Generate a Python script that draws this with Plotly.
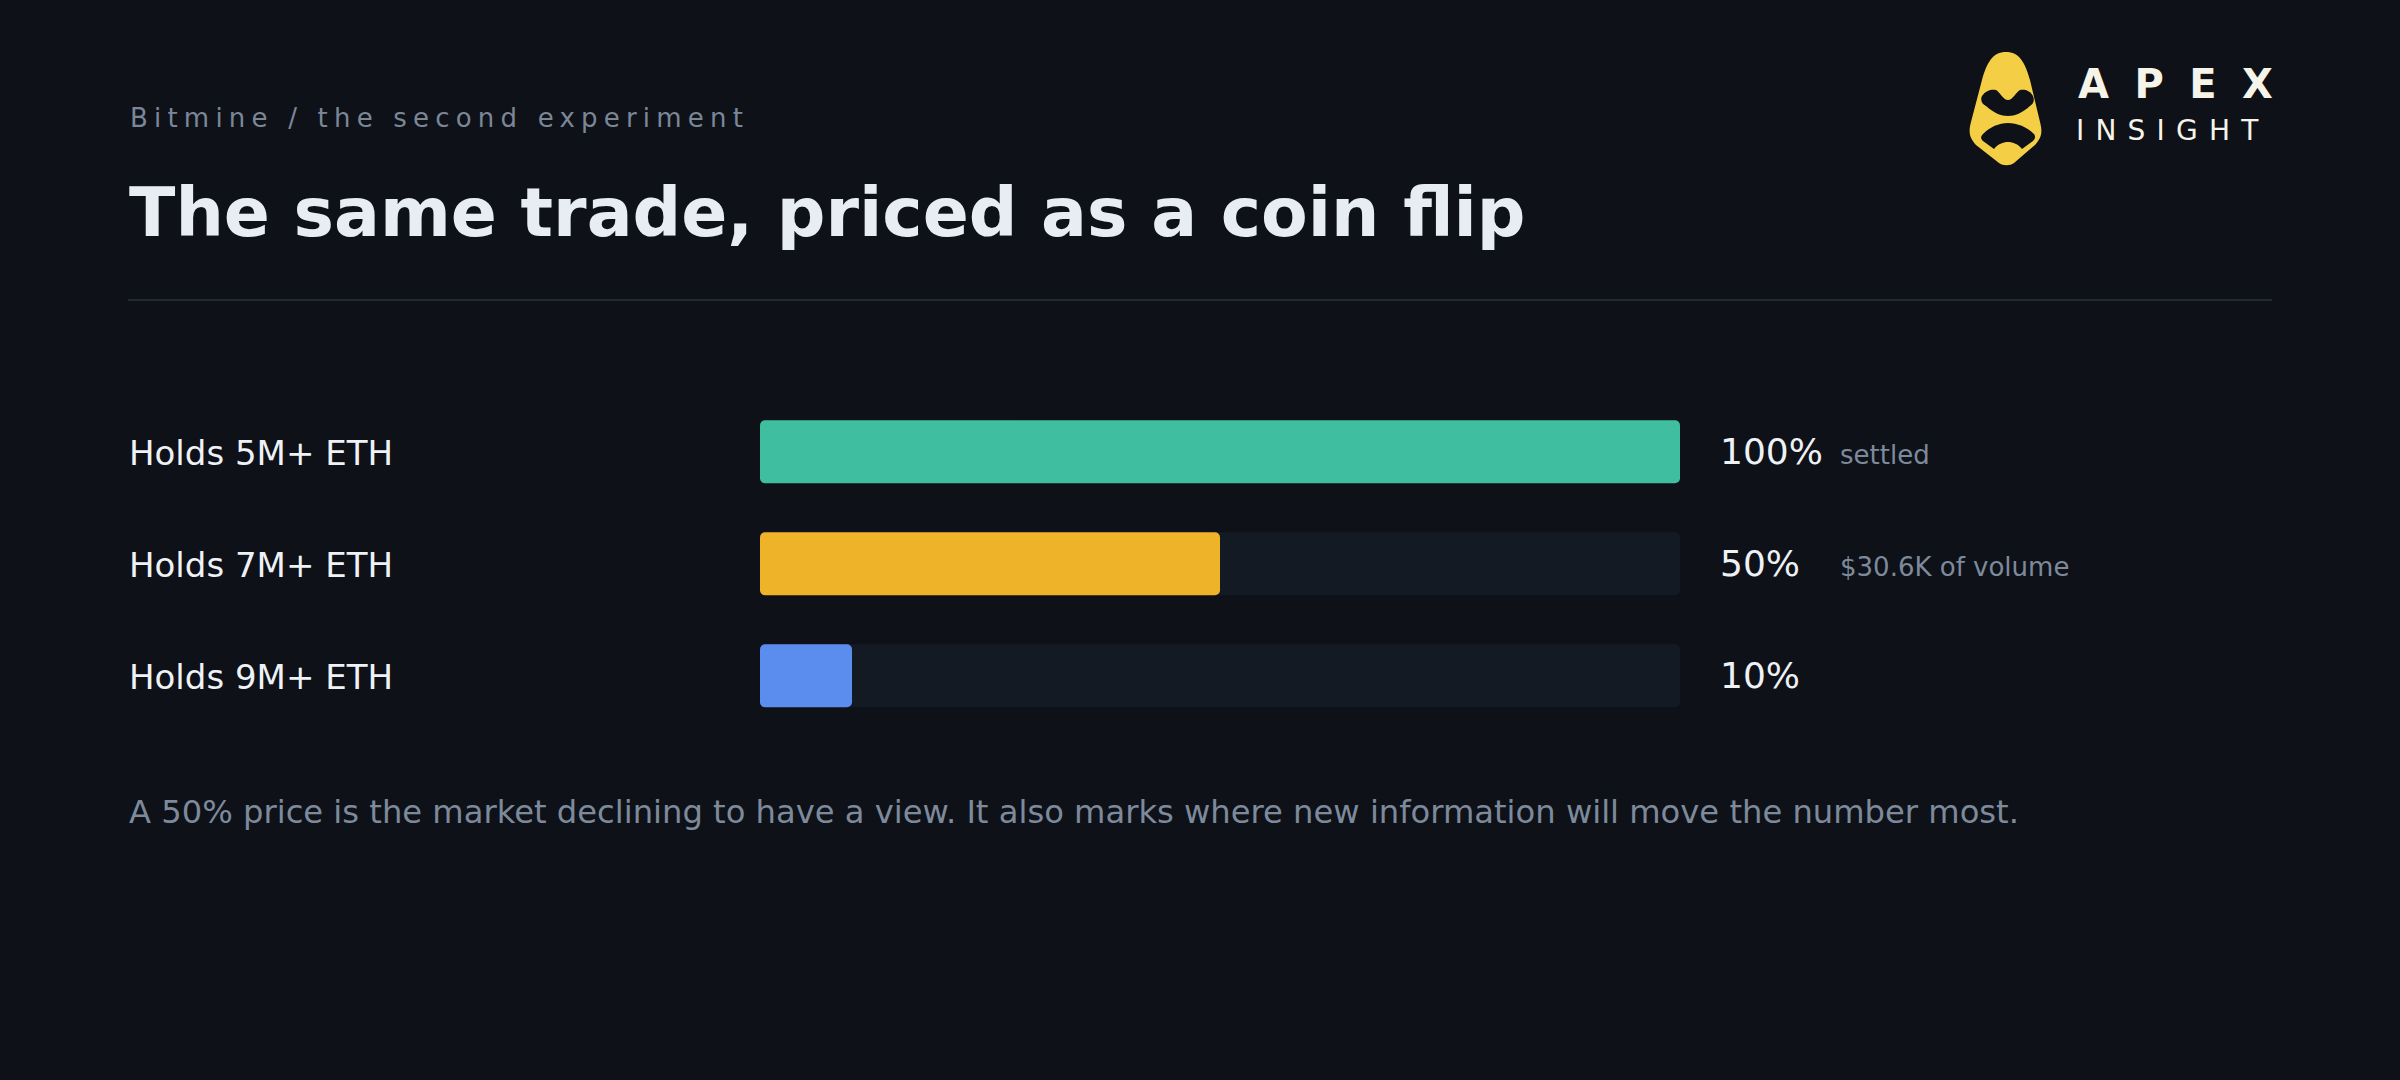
import plotly.graph_objects as go

# ---- data ----
categories = ["Holds 5M+ ETH", "Holds 7M+ ETH", "Holds 9M+ ETH"]
probabilities = [100, 50, 10]
value_labels = ["100%", "50%", "10%"]
notes = ["settled", "$30.6K of volume", ""]
bar_colors = ["#3fbea0", "#efb32a", "#5b8dee"]
track_max = [100, 100, 100]
bar_base = [0, 0, 0]

eyebrow = "Bitmine / the second experiment"
title = "The same trade, priced as a coin flip"
footnote = ("A 50% price is the market declining to have a view. "
            "It also marks where new information will move the number most.")

W, H = 2400, 1080
BG = "#0e1118"
FONT = "DejaVu Sans"


def px(x):
    return x / W


def py(y):
    return 1 - y / H


fig = go.Figure()
fig.add_trace(go.Bar(
    y=categories, x=track_max, base=bar_base, orientation="h", width=0.5625,
    marker=dict(color="#141a23", cornerradius=5, line=dict(width=0)),
    hoverinfo="skip", showlegend=False,
))
fig.add_trace(go.Bar(
    y=categories, x=probabilities, base=bar_base, orientation="h", width=0.5625,
    marker=dict(color=bar_colors, cornerradius=5, line=dict(width=0)),
    hoverinfo="skip", showlegend=False,
))

annotations = []
annotations.append(dict(
    text=eyebrow, xref="paper", yref="paper", x=px(128), y=py(118.3),
    xanchor="left", yanchor="middle", align="left", showarrow=False,
    font=dict(family=FONT, size=26, color="#7b8797"),
))
annotations.append(dict(
    text="<b>" + title + "</b>", xref="paper", yref="paper", x=px(127), y=py(212.5),
    xanchor="left", yanchor="middle", align="left", showarrow=False,
    font=dict(family=FONT, size=68, color="#e8edf4"),
))
for cat, vl, note in zip(categories, value_labels, notes):
    annotations.append(dict(
        text=cat, xref="paper", yref="y", x=px(127), y=cat,
        xanchor="left", yanchor="middle", align="left", showarrow=False, yshift=-1,
        font=dict(family=FONT, size=34, color="#eef1f5"),
    ))
    annotations.append(dict(
        text=vl, xref="paper", yref="y", x=px(1718), y=cat,
        xanchor="left", yanchor="middle", align="left", showarrow=False,
        font=dict(family=FONT, size=36, color="#eef1f5"),
    ))
    if note:
        annotations.append(dict(
            text=note, xref="paper", yref="y", x=px(1838), y=cat,
            xanchor="left", yanchor="middle", align="left", showarrow=False, yshift=-3,
            font=dict(family=FONT, size=26, color="#7d8a9b"),
        ))
annotations.append(dict(
    text=footnote, xref="paper", yref="paper", x=px(127), y=py(812.0),
    xanchor="left", yanchor="middle", align="left", showarrow=False,
    font=dict(family=FONT, size=32.2, color="#7d8a9b"),
))
# logo wordmark
annotations.append(dict(
    text="<b>APEX</b>", xref="paper", yref="paper", x=px(2076), y=py(84.0),
    xanchor="left", yanchor="middle", align="left", showarrow=False,
    font=dict(family=FONT, size=40, color="#f6f4e8"),
))
annotations.append(dict(
    text="INSIGHT", xref="paper", yref="paper", x=px(2074), y=py(130.5),
    xanchor="left", yanchor="middle", align="left", showarrow=False,
    font=dict(family=FONT, size=28, color="#f6f4e8"),
))


def path_paper(cmds):
    out = []
    for c in cmds:
        if isinstance(c, str):
            out.append(c)
        else:
            out.append(f"{px(c[0]):.5f},{py(c[1]):.5f}")
    return " ".join(out)


logo_outer = path_paper([
    "M", (2006, 52), "C", (2019, 52), (2025, 62), (2030, 80), "L", (2040, 122),
    "C", (2043, 133), (2041, 138), (2035, 145), "L", (2014, 163),
    "C", (2010, 166), (2003, 166), (1999, 163), "L", (1976, 145),
    "C", (1970, 138), (1968, 133), (1971, 122), "L", (1982, 80),
    "C", (1987, 62), (1993, 52), (2006, 52), "Z",
])
logo_upper = path_paper([
    "M", (1982, 96), "C", (1986, 90), (1992, 89), (1996, 90),
    "C", (2000, 92), (2003, 100), (2008, 100),
    "C", (2013, 100), (2016, 92), (2020, 90),
    "C", (2024, 89), (2030, 90), (2033, 96),
    "C", (2035, 101), (2033, 104), (2030, 106),
    "C", (2022, 113), (2015, 116), (2008, 116),
    "C", (2001, 116), (1994, 113), (1986, 106),
    "C", (1982, 104), (1980, 100), (1982, 96), "Z",
])
logo_lower = path_paper([
    "M", (1983, 134), "C", (1990, 127), (1999, 123), (2008, 123),
    "C", (2017, 123), (2027, 127), (2034, 134),
    "C", (2036, 137), (2035, 139), (2033, 141), "L", (2022, 149),
    "C", (2018, 144), (2013, 142), (2008, 142),
    "C", (2003, 142), (1998, 144), (1994, 149), "L", (1983, 141),
    "C", (1981, 139), (1980, 137), (1983, 134), "Z",
])

shapes = [
    dict(type="line", xref="paper", yref="paper", x0=px(128), x1=px(2272),
         y0=py(300), y1=py(300), line=dict(color="#232a35", width=2)),
    dict(type="path", xref="paper", yref="paper", path=logo_outer,
         fillcolor="#f4cf45", line=dict(width=0), layer="above"),
    dict(type="path", xref="paper", yref="paper", path=logo_upper,
         fillcolor=BG, line=dict(width=0), layer="above"),
    dict(type="path", xref="paper", yref="paper", path=logo_lower,
         fillcolor=BG, line=dict(width=0), layer="above"),
]

fig.update_layout(
    width=W, height=H, autosize=False,
    margin=dict(l=0, r=0, t=0, b=0, pad=0),
    paper_bgcolor=BG, plot_bgcolor=BG,
    barmode="overlay", showlegend=False,
    xaxis=dict(domain=[px(760), px(1680)], range=[0, 100], visible=False, fixedrange=True),
    yaxis=dict(domain=[py(731.8), py(395.7)], categoryorder="array", categoryarray=categories,
               range=[2.5, -0.5], visible=False, fixedrange=True),
    annotations=annotations, shapes=shapes,
    font=dict(family=FONT),
)

post = """
document.body.style.margin = '0';
document.body.style.background = '#0e1118';
var sp = {"Bitmine / the second experiment": "6.2px", "APEX": "25.5px", "INSIGHT": "11.2px"};
document.querySelectorAll('text.annotation-text').forEach(function(t){
  var v = sp[t.textContent];
  if (v) { t.style.letterSpacing = v; }
});
"""

fig.write_html("out.html", config={"displayModeBar": False, "staticPlot": True},
               post_script=post)
